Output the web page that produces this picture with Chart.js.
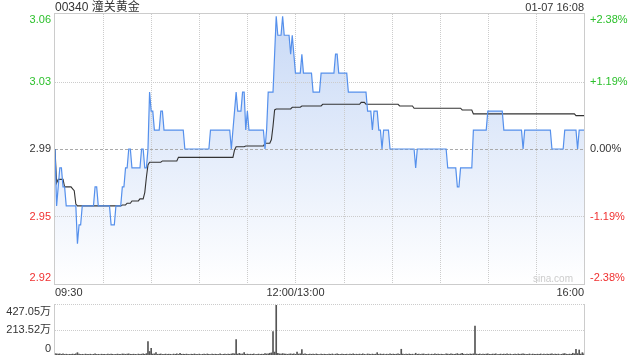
<!DOCTYPE html>
<html>
<head>
<meta charset="utf-8">
<script src="https://cdn.jsdelivr.net/npm/chart.js@4.4.1/dist/chart.umd.min.js"></script>
<style>
  html, body { margin: 0; padding: 0; background: #fff; }
  #wrap { position: relative; width: 640px; height: 360px; overflow: hidden;
          font-family: "Liberation Sans", Arial, "Noto Sans CJK SC", sans-serif; }
  #wrap canvas { position: absolute; left: 0; top: 0; }
  .hd { position: absolute; top: 0; color: #333; line-height: 15px; white-space: nowrap; }
</style>
</head>
<body>
<div id="wrap">
  <canvas id="priceChart" width="640" height="360"></canvas>
  <canvas id="volChart" width="640" height="360"></canvas>
  <div class="hd" style="left:55px; font-size:12px;">00340 潼关黄金</div>
  <div class="hd" style="right:56px; font-size:11px;">01-07 16:08</div>
</div>
<script>
// previous close, the 0.00% line
const prevClose = 2.99;

// left / right axis ticks (price and change vs previous close)
const priceTicks = [3.0612, 3.0256, 2.99, 2.9544, 2.9188];
const priceTickLabels = ['3.06', '3.03', '2.99', '2.95', '2.92'];
const pctTickLabels = ['+2.38%', '+1.19%', '0.00%', '-1.19%', '-2.38%'];

// time axis, in minutes of trading since 09:30 (lunch break removed)
const timeTicks = [0, 150, 330];
const timeTickLabels = ['09:30', '12:00/13:00', '16:00'];

// volume axis
const volTicks = [427.05, 213.52, 0];
const volTickLabels = ['427.05万', '213.52万', '0'];

// minute prices
const price = [
  2.99, 2.96, 2.97, 2.98, 2.98, 2.97, 2.97, 2.96, 2.96, 2.96,
  2.96, 2.96, 2.96, 2.96, 2.94, 2.95, 2.95, 2.96, 2.96, 2.96,
  2.96, 2.96, 2.96, 2.96, 2.96, 2.97, 2.97, 2.96, 2.96, 2.96,
  2.96, 2.96, 2.96, 2.96, 2.96, 2.95, 2.95, 2.95, 2.96, 2.96,
  2.96, 2.96, 2.97, 2.97, 2.98, 2.98, 2.99, 2.99, 2.98, 2.98,
  2.98, 2.98, 2.98, 2.98, 2.99, 2.99, 2.98, 2.98, 2.99, 3.02,
  3.01, 3.01, 3.00, 3.00, 3.00, 3.00, 3.01, 3.01, 3.00, 3.00,
  3.00, 3.00, 3.00, 3.00, 3.00, 3.00, 3.00, 3.00, 3.00, 3.00,
  3.00, 2.99, 2.99, 2.99, 2.99, 2.99, 2.99, 2.99, 2.99, 2.99,
  2.99, 2.99, 2.99, 2.99, 2.99, 2.99, 2.99, 3.00, 3.00, 3.00,
  3.00, 3.00, 3.00, 3.00, 3.00, 3.00, 3.00, 3.00, 3.00, 3.00,
  2.99, 3.00, 3.01, 3.02, 3.01, 3.01, 3.01, 3.02, 3.02, 3.00,
  3.01, 3.00, 3.00, 3.00, 3.00, 3.00, 3.00, 3.00, 3.00, 3.00,
  3.00, 2.99, 3.00, 3.02, 3.02, 3.02, 3.02, 3.04, 3.06, 3.05,
  3.05, 3.05, 3.06, 3.05, 3.05, 3.05, 3.05, 3.04, 3.05, 3.04,
  3.03, 3.03, 3.03, 3.03, 3.04, 3.03, 3.03, 3.03, 3.03, 3.03,
  3.03, 3.02, 3.02, 3.02, 3.02, 3.02, 3.03, 3.03, 3.03, 3.03,
  3.03, 3.03, 3.03, 3.03, 3.03, 3.04, 3.04, 3.03, 3.03, 3.03,
  3.03, 3.03, 3.03, 3.02, 3.02, 3.02, 3.02, 3.02, 3.02, 3.02,
  3.02, 3.02, 3.02, 3.02, 3.02, 3.01, 3.01, 3.01, 3.00, 3.01,
  3.01, 3.01, 3.00, 3.00, 2.99, 3.00, 3.00, 3.00, 3.00, 2.99,
  2.99, 2.99, 2.99, 2.99, 2.99, 2.99, 2.99, 2.99, 2.99, 2.99,
  2.99, 2.99, 2.99, 2.99, 2.99, 2.98, 2.99, 2.99, 2.99, 2.99,
  2.99, 2.99, 2.99, 2.99, 2.99, 2.99, 2.99, 2.99, 2.99, 2.99,
  2.99, 2.99, 2.99, 2.99, 2.99, 2.98, 2.98, 2.98, 2.98, 2.98,
  2.98, 2.97, 2.97, 2.98, 2.98, 2.98, 2.98, 2.98, 2.98, 2.98,
  2.98, 3.00, 3.00, 3.00, 3.00, 3.00, 3.00, 3.00, 3.00, 3.00,
  3.01, 3.01, 3.01, 3.01, 3.01, 3.01, 3.01, 3.01, 3.01, 3.01,
  3.00, 3.00, 3.00, 3.00, 3.00, 3.00, 3.00, 3.00, 3.00, 3.00,
  3.00, 3.00, 2.99, 3.00, 3.00, 3.00, 3.00, 3.00, 3.00, 3.00,
  3.00, 3.00, 3.00, 3.00, 3.00, 3.00, 3.00, 3.00, 3.00, 3.00,
  2.99, 2.99, 2.99, 2.99, 2.99, 2.99, 2.99, 2.99, 3.00, 3.00,
  3.00, 3.00, 3.00, 3.00, 3.00, 3.00, 2.99, 3.00, 3.00, 3.00,
  3.00
];

// minute average price
const avgPrice = [
  2.990, 2.972, 2.974, 2.974, 2.974, 2.974, 2.970, 2.970, 2.970, 2.970,
  2.970, 2.969, 2.968, 2.961, 2.960, 2.960, 2.960, 2.960, 2.960, 2.960,
  2.960, 2.960, 2.960, 2.960, 2.960, 2.960, 2.960, 2.960, 2.960, 2.960,
  2.960, 2.960, 2.960, 2.960, 2.960, 2.960, 2.960, 2.960, 2.960, 2.960,
  2.960, 2.960, 2.9605, 2.9605, 2.9605, 2.9614, 2.9614, 2.9614, 2.9626, 2.9626,
  2.9626, 2.9626, 2.9626, 2.9637, 2.9637, 2.9637, 2.967, 2.975, 2.9816, 2.983,
  2.983, 2.983, 2.983, 2.983, 2.983, 2.983, 2.983, 2.9837, 2.9837, 2.9837,
  2.9837, 2.9837, 2.9837, 2.9837, 2.9837, 2.9837, 2.9837, 2.9856, 2.9856, 2.9856,
  2.9856, 2.9856, 2.9856, 2.9856, 2.9856, 2.9856, 2.9856, 2.9856, 2.9856, 2.9856,
  2.9856, 2.9856, 2.9856, 2.9856, 2.9856, 2.9856, 2.9856, 2.9856, 2.9856, 2.9856,
  2.9856, 2.9856, 2.9856, 2.9856, 2.9856, 2.9856, 2.9856, 2.9856, 2.9856, 2.9856,
  2.9856, 2.9856, 2.9895, 2.9912, 2.9912, 2.9912, 2.9912, 2.9912, 2.9912, 2.9916,
  2.9916, 2.9916, 2.9916, 2.9916, 2.9916, 2.9916, 2.9916, 2.9916, 2.9916, 2.9916,
  2.9916, 2.993, 2.993, 2.993, 2.993, 2.995, 3.002, 3.0106, 3.0111, 3.0111,
  3.0111, 3.0111, 3.0111, 3.0111, 3.0111, 3.0111, 3.0111, 3.0111, 3.012, 3.012,
  3.012, 3.012, 3.012, 3.012, 3.0127, 3.0127, 3.0127, 3.0127, 3.0127, 3.0127,
  3.0127, 3.0127, 3.0127, 3.0127, 3.0127, 3.0127, 3.0127, 3.0136, 3.0136, 3.0136,
  3.0136, 3.0136, 3.0136, 3.0136, 3.0136, 3.0136, 3.0136, 3.0136, 3.0136, 3.0136,
  3.0136, 3.0136, 3.0136, 3.0136, 3.0136, 3.0136, 3.0136, 3.0136, 3.0136, 3.0136,
  3.0136, 3.0146, 3.0146, 3.0146, 3.0136, 3.0136, 3.0136, 3.0136, 3.0136, 3.0136,
  3.0136, 3.0136, 3.0136, 3.0136, 3.0136, 3.0136, 3.0136, 3.0136, 3.0136, 3.0136,
  3.0136, 3.0136, 3.0136, 3.0136, 3.0136, 3.0127, 3.0127, 3.0127, 3.0127, 3.0127,
  3.0127, 3.0127, 3.0127, 3.0127, 3.0115, 3.0115, 3.0115, 3.0115, 3.0115, 3.0115,
  3.0115, 3.0115, 3.0115, 3.0115, 3.0115, 3.0115, 3.0115, 3.0115, 3.0115, 3.0115,
  3.0115, 3.0115, 3.0115, 3.0115, 3.0115, 3.0115, 3.0115, 3.0115, 3.0115, 3.0115,
  3.0115, 3.0115, 3.0115, 3.0115, 3.0106, 3.0106, 3.0106, 3.0106, 3.0106, 3.0106,
  3.0106, 3.0085, 3.0085, 3.0085, 3.0085, 3.0085, 3.0085, 3.0085, 3.0085, 3.0085,
  3.0085, 3.0085, 3.0085, 3.0085, 3.0085, 3.0085, 3.0085, 3.0085, 3.0085, 3.0085,
  3.0085, 3.0085, 3.0085, 3.0085, 3.0085, 3.0085, 3.0085, 3.0085, 3.0085, 3.0085,
  3.0085, 3.0085, 3.0085, 3.0085, 3.0085, 3.0085, 3.0085, 3.0085, 3.0085, 3.0085,
  3.0085, 3.0085, 3.0085, 3.0085, 3.0085, 3.0085, 3.0085, 3.0085, 3.0085, 3.0085,
  3.0085, 3.0085, 3.0085, 3.0085, 3.0085, 3.0085, 3.0085, 3.0085, 3.0085, 3.0085,
  3.0085, 3.0085, 3.0085, 3.0085, 3.0085, 3.0076, 3.0076, 3.0076, 3.0076, 3.0076,
  3.0076
];

// minute volume, in 万 shares
const volume = [
  12, 10, 8, 10, 6, 9, 5, 7, 4, 6,
  5, 8, 6, 9, 20, 7, 5, 6, 4, 8,
  6, 5, 7, 4, 6, 9, 5, 6, 4, 7,
  5, 6, 4, 8, 5, 7, 6, 4, 5, 8,
  6, 5, 9, 7, 6, 8, 10, 6, 5, 7,
  6, 4, 8, 5, 7, 9, 6, 12, 115, 30,
  57, 8, 10, 20, 6, 7, 9, 5, 6, 8,
  5, 7, 6, 4, 8, 6, 9, 5, 15, 6,
  7, 5, 8, 6, 4, 7, 5, 9, 6, 5,
  8, 4, 6, 7, 5, 9, 6, 4, 8, 5,
  7, 6, 5, 9, 4, 6, 8, 5, 7, 6,
  9, 12, 10, 132, 8, 14, 7, 9, 20, 6,
  8, 5, 7, 6, 9, 4, 6, 8, 5, 7,
  6, 12, 9, 10, 15, 18, 201, 25, 427.05, 14,
  10, 8, 12, 9, 7, 6, 8, 10, 7, 9,
  6, 25, 8, 10, 46, 7, 9, 6, 5, 8,
  6, 7, 5, 9, 6, 4, 8, 5, 7, 6,
  5, 8, 6, 9, 4, 7, 10, 6, 5, 8,
  6, 5, 7, 4, 8, 6, 9, 5, 7, 6,
  8, 5, 10, 6, 4, 9, 7, 5, 8, 6,
  7, 20, 5, 9, 6, 8, 4, 7, 5, 9,
  6, 8, 5, 7, 9, 6, 49, 7, 5, 8,
  6, 9, 5, 7, 4, 15, 6, 8, 5, 7,
  9, 5, 6, 8, 4, 7, 5, 9, 6, 8,
  5, 7, 6, 4, 9, 8, 6, 10, 7, 5,
  8, 12, 6, 9, 15, 7, 5, 8, 6, 9,
  7, 10, 247, 8, 6, 9, 5, 7, 6, 8,
  10, 6, 5, 8, 7, 9, 4, 6, 8, 5,
  7, 6, 9, 5, 8, 4, 6, 7, 5, 9,
  6, 8, 10, 7, 5, 6, 9, 4, 8, 6,
  5, 7, 6, 9, 4, 8, 5, 7, 6, 8,
  9, 5, 7, 6, 8, 4, 6, 9, 12, 7,
  5, 8, 6, 15, 10, 49, 12, 43, 8, 20,
  10
];

const FONT = '11px "Liberation Sans", Arial, "Noto Sans CJK SC", sans-serif';
const UP = '#2cc02c', DOWN = '#f03030', FLAT = '#333';

// crisp 1px line
function seg(ctx, x1, y1, x2, y2) {
  ctx.beginPath();
  ctx.moveTo(x1, y1);
  ctx.lineTo(x2, y2);
  ctx.stroke();
}
const snap = v => Math.round(v) + 0.5;

// grid, frame and labels of the price panel
const priceFrame = {
  id: 'priceFrame',
  beforeDatasetsDraw(chart) {
    const { ctx, chartArea: a, scales: { x, y } } = chart;
    ctx.save();
    ctx.lineWidth = 1;
    ctx.strokeStyle = '#ccc';
    ctx.setLineDash([1, 1]);
    for (let m = 30; m < 330; m += 30) {
      const px = snap(x.getPixelForValue(m));
      seg(ctx, px, a.top, px, a.bottom);
    }
    priceTicks.forEach(v => {
      if (v === prevClose || v === priceTicks[0] || v === priceTicks[priceTicks.length - 1]) return;
      const py = snap(y.getPixelForValue(v));
      seg(ctx, a.left, py, a.right, py);
    });
    // previous close line
    ctx.strokeStyle = '#aaa';
    ctx.setLineDash([3, 2]);
    const pc = snap(y.getPixelForValue(prevClose));
    seg(ctx, a.left, pc, a.right, pc);
    ctx.restore();
  },
  afterDraw(chart) {
    const { ctx, chartArea: a, scales: { x, y } } = chart;
    ctx.save();
    ctx.lineWidth = 1;
    ctx.strokeStyle = '#ccc';
    ctx.strokeRect(snap(a.left) - 1, snap(a.top) - 1, Math.round(a.right - a.left) + 1, Math.round(a.bottom - a.top) + 1);

    ctx.font = FONT;
    ctx.textBaseline = 'middle';
    priceTicks.forEach((v, i) => {
      const py = Math.min(Math.max(y.getPixelForValue(v), a.top + 6), a.bottom - 6);
      ctx.fillStyle = v > prevClose + 1e-6 ? UP : (v < prevClose - 1e-6 ? DOWN : FLAT);
      ctx.textAlign = 'right';
      ctx.fillText(priceTickLabels[i], a.left - 4, py);
      ctx.textAlign = 'left';
      ctx.fillText(pctTickLabels[i], a.right + 6, py);
    });

    ctx.fillStyle = '#333';
    timeTicks.forEach((t, i) => {
      ctx.textAlign = i === 0 ? 'left' : (i === timeTicks.length - 1 ? 'right' : 'center');
      ctx.fillText(timeTickLabels[i], x.getPixelForValue(t), a.bottom + 9);
    });

    ctx.fillStyle = '#ccc';
    ctx.font = '10px "Liberation Sans", Arial, sans-serif';
    ctx.textAlign = 'right';
    ctx.fillText('sina.com', a.right - 11, a.bottom - 5);
    ctx.restore();
  }
};

// grid, frame and labels of the volume panel
const volFrame = {
  id: 'volFrame',
  beforeDatasetsDraw(chart) {
    const { ctx, chartArea: a, scales: { y } } = chart;
    ctx.save();
    ctx.lineWidth = 1;
    ctx.strokeStyle = '#ccc';
    ctx.setLineDash([1, 1]);
    volTicks.slice(0, 2).forEach(v => {
      const py = snap(y.getPixelForValue(v)) - (v === volTicks[0] ? 1 : 0);
      seg(ctx, a.left, py, a.right, py);
    });
    ctx.setLineDash([]);
    seg(ctx, snap(a.left) - 1, a.top - 1, snap(a.left) - 1, a.bottom);
    seg(ctx, snap(a.right), a.top - 1, snap(a.right), a.bottom);
    ctx.restore();
  },
  afterDraw(chart) {
    const { ctx, chartArea: a, scales: { y } } = chart;
    ctx.save();
    ctx.font = FONT;
    ctx.textBaseline = 'middle';
    ctx.textAlign = 'right';
    ctx.fillStyle = '#333';
    volTicks.forEach((v, i) => {
      const py = Math.min(Math.max(y.getPixelForValue(v), a.top + 7), a.bottom - 6);
      ctx.fillText(volTickLabels[i], a.left - 4, py);
    });
    ctx.restore();
  }
};

// vertical blue wash under the price line
function fillGradient(context) {
  const { ctx, chartArea } = context.chart;
  if (!chartArea) return 'rgba(200,218,246,0.6)';
  const g = ctx.createLinearGradient(0, chartArea.top, 0, chartArea.bottom);
  g.addColorStop(0, '#c8d9f6');
  g.addColorStop(1, '#ffffff');
  return g;
}

new Chart(document.getElementById('priceChart'), {
  type: 'line',
  data: {
    datasets: [
      {
        label: '价格',
        data: price.map((p, i) => ({ x: i, y: p })),
        borderColor: '#5590ec',
        borderWidth: 1.2,
        pointRadius: 0,
        tension: 0,
        fill: 'start',
        backgroundColor: fillGradient,
        order: 0
      },
      {
        label: '均价',
        data: avgPrice.map((p, i) => ({ x: i, y: p })),
        borderColor: '#333',
        borderWidth: 1.1,
        pointRadius: 0,
        tension: 0,
        fill: false,
        order: 1
      }
    ]
  },
  options: {
    responsive: false,
    animation: false,
    events: [],
    layout: { padding: { left: 55, right: 56, top: 14, bottom: 76 } },
    scales: {
      x: { type: 'linear', display: false, min: 0, max: 330 },
      y: { display: false, min: priceTicks[4], max: priceTicks[0] }
    },
    plugins: {
      legend: { display: false },
      tooltip: { enabled: false },
      filler: { drawTime: 'beforeDraw' }
    }
  },
  plugins: [priceFrame]
});

new Chart(document.getElementById('volChart'), {
  type: 'bar',
  data: {
    datasets: [{
      label: '成交量',
      data: volume.map((v, i) => ({ x: i, y: v })),
      backgroundColor: '#555',
      barThickness: 1
    }]
  },
  options: {
    responsive: false,
    animation: false,
    events: [],
    layout: { padding: { left: 55, right: 56, top: 305, bottom: 5 } },
    scales: {
      x: { type: 'linear', display: false, min: 0, max: 330, offset: false },
      y: { display: false, min: 0, max: volTicks[0] }
    },
    plugins: {
      legend: { display: false },
      tooltip: { enabled: false }
    }
  },
  plugins: [volFrame]
});
</script>
</body>
</html>
